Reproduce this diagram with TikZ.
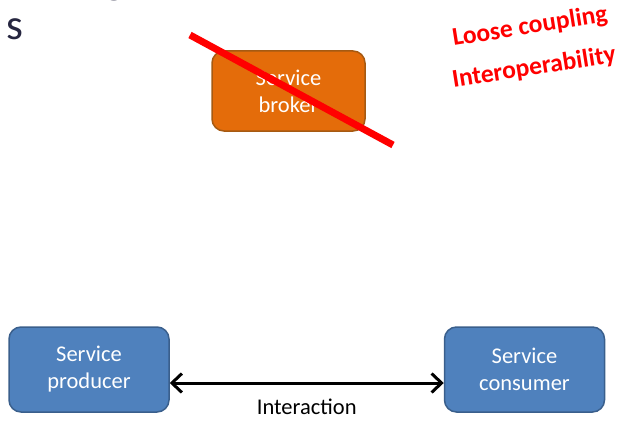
\documentclass[tikz,border=0pt]{standalone}
\usepackage{fontspec}
\setmainfont{Carlito}
\usetikzlibrary{positioning,arrows.meta}
\definecolor{svcblue}{HTML}{4F81BD}
\definecolor{svcedge}{HTML}{3A5F8C}
\definecolor{brokerfill}{HTML}{E46C0A}
\definecolor{brokeredge}{HTML}{A65A12}
\definecolor{titleink}{HTML}{262640}
\tikzset{
x=1pt,
y=-1pt,
>={Straight Barb[length=10pt,width=19pt]},
node distance=274pt,
service/.style={draw=svcedge, line width=1.5pt, fill=svcblue, rounded corners=12pt,
  minimum width=160pt, minimum height=85pt, align=center, text=white,
  font=\fontsize{22.5}{27}\selectfont},
broker/.style={service, draw=brokeredge, fill=brokerfill, minimum width=153pt, minimum height=80pt},
slogan/.style={text=red, font=\fontsize{25.5}{30}\selectfont\bfseries, rotate=9},
}

\begin{document}
\begin{tikzpicture}
        \useasboundingbox (0,0) rectangle (620,420);

        % title pieces cut off by the page edge
        \node[anchor=base west, inner sep=0pt, text=titleink, font=\fontsize{43}{50}\selectfont] (titletop) at (104,-6) {g};
        \node[anchor=base west, inner sep=0pt, text=titleink, font=\fontsize{43}{50}\selectfont] (title) at (6.5,40) {s};

        \node[broker] (broker) at (288.5,91) {Service\\broker};
        \node[service] (producer) at (89,369.5) {Service\\producer};
        \node[service,right=of producer] (consumer) {Service\\consumer};

        \node[slogan] (coupling) at (530,27) {Loose coupling};
        \node[slogan] (interop) at (534,68) {Interoperability};

        % broker crossed out
        \coordinate (strikeA) at (190,35);
        \coordinate (strikeB) at (393,145);
        \draw[red, line width=7pt] (strikeA) -- (strikeB);

        \draw[<->, line width=3pt] ([yshift=-13.5pt]producer.east) -- node[below=11pt, font=\fontsize{22.5}{27}\selectfont]{Interaction} ([yshift=-13.5pt]consumer.west);
    \end{tikzpicture}
\end{document}
